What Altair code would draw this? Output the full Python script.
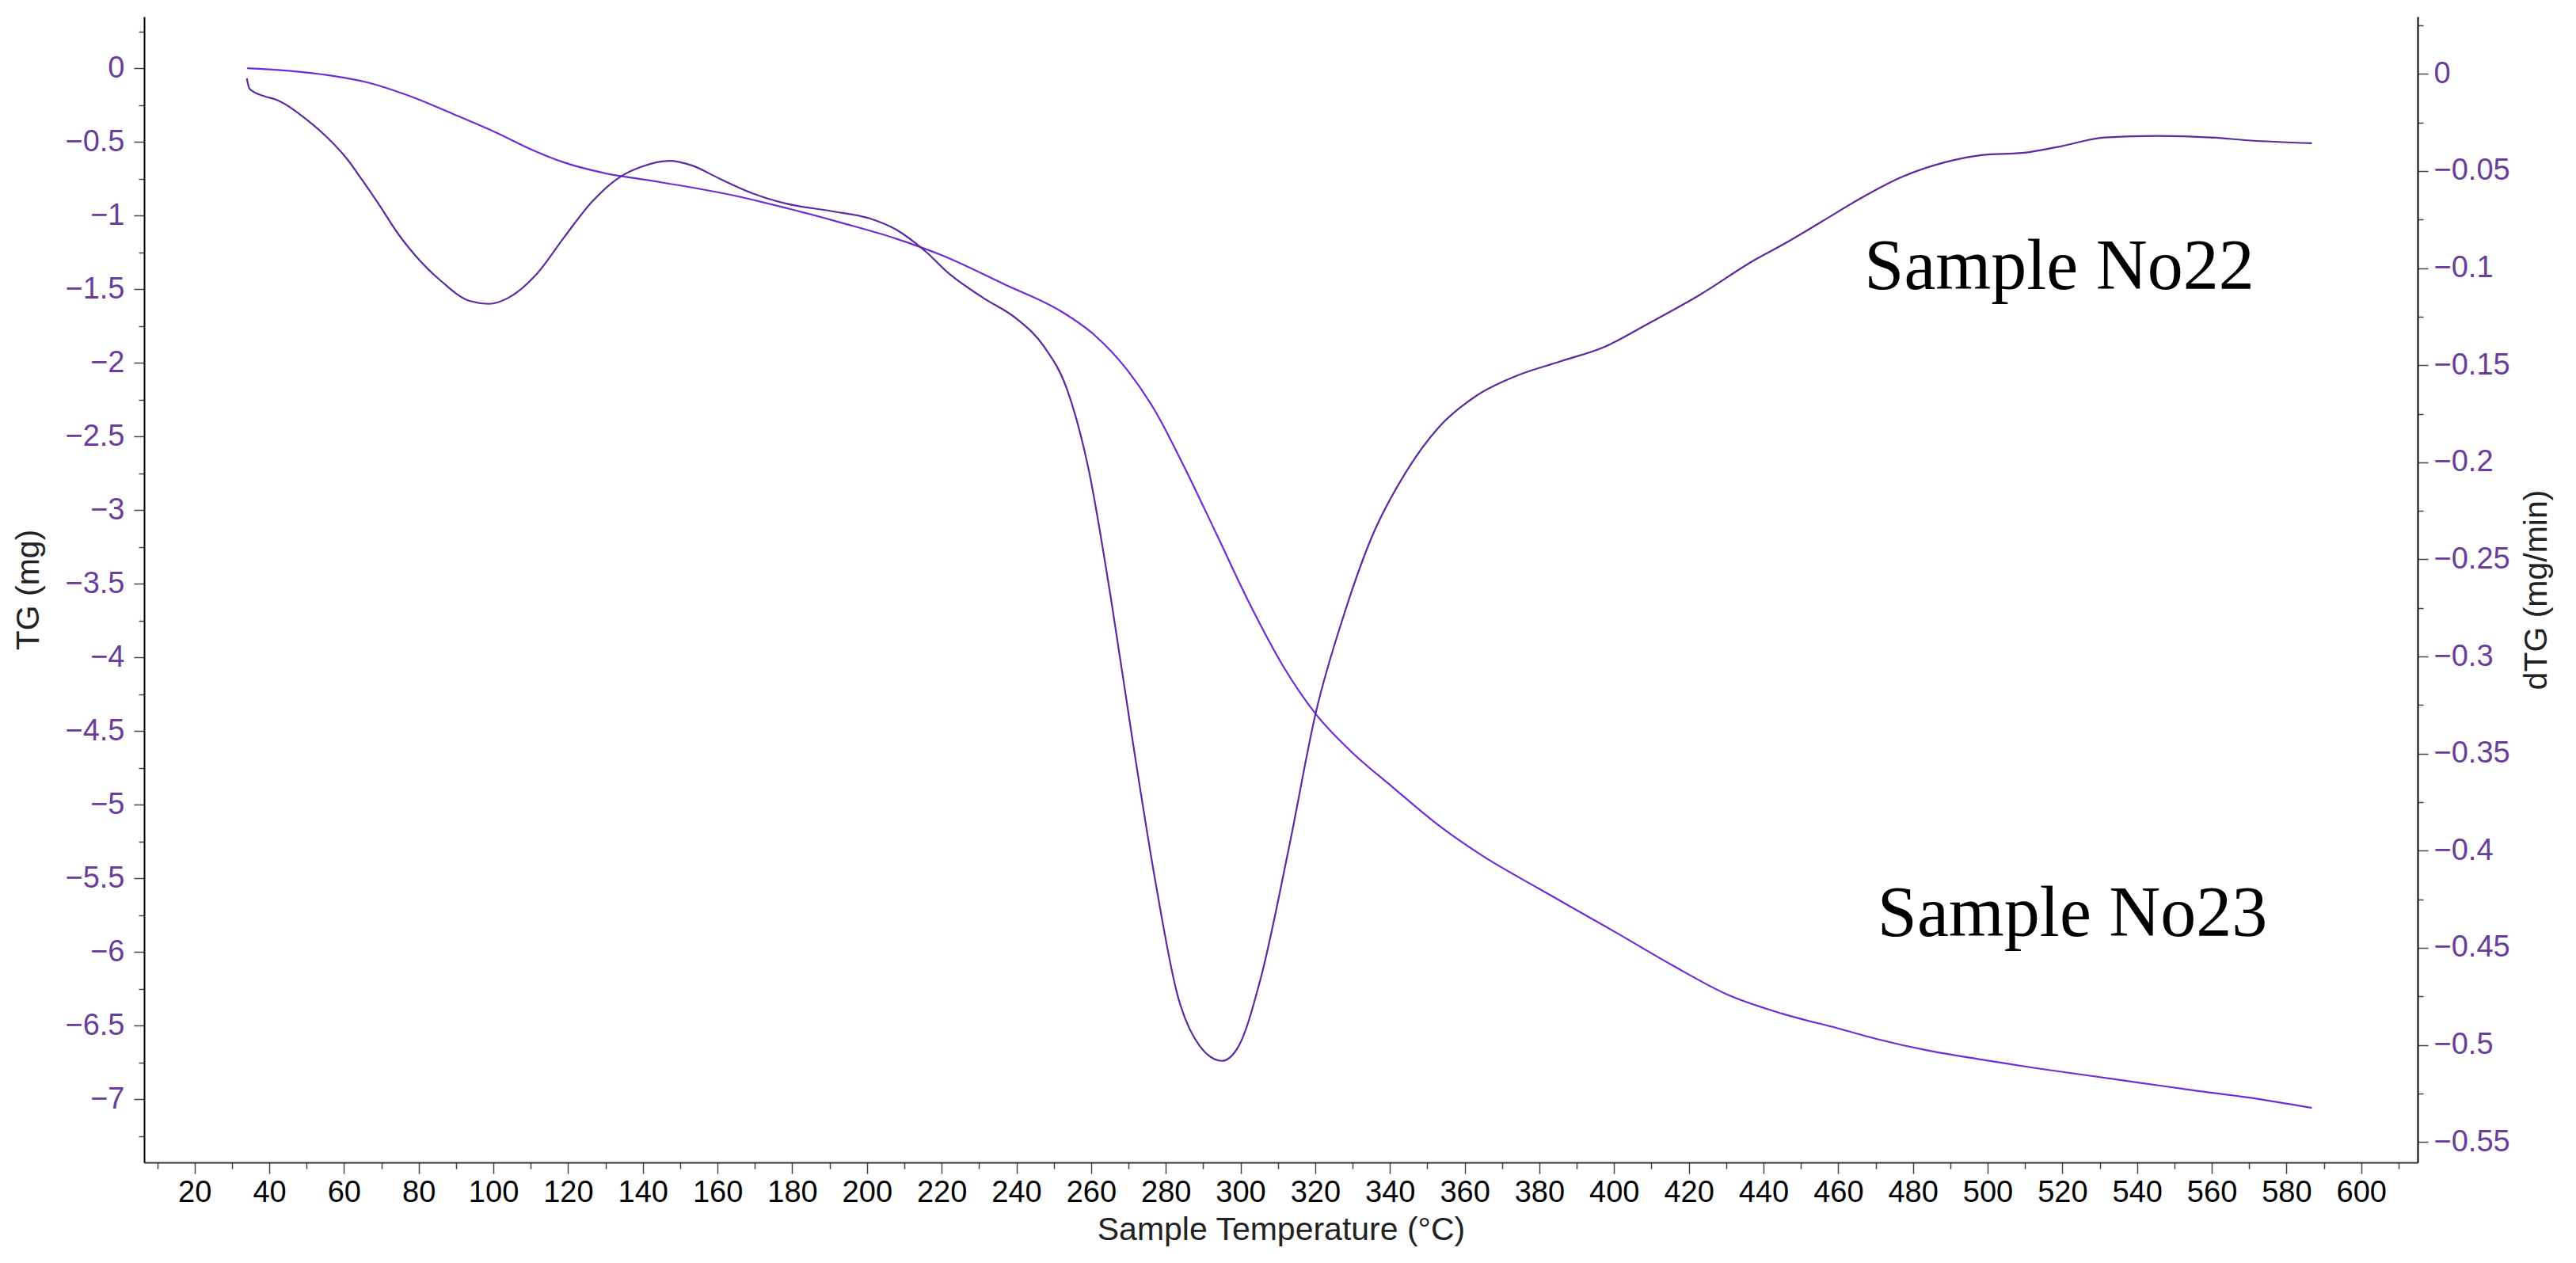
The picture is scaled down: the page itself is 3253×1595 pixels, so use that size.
import altair as alt
import pandas as pd

# ---- data ----
tg_temp = [34.1, 44.5, 56.4, 66.8, 78.7, 89.1, 101.0, 110.0, 118.9, 129.3, 141.2, 153.1,
           163.5, 178.4, 193.2, 208.1, 220.0, 237.0, 251.9, 260.8, 269.7, 277.2, 284.6,
           293.5, 302.5, 311.4, 320.3, 329.2, 341.1, 353.0, 364.9, 379.8, 400.6, 415.5,
           430.3, 445.0, 460.0, 470.0, 484.0, 498.0, 513.0, 527.0, 541.0, 555.0, 570.0, 586.8]
tg_mass = [0.0, -0.016, -0.05, -0.10, -0.20, -0.31, -0.44, -0.55, -0.64, -0.71, -0.76, -0.81,
           -0.86, -0.95, -1.05, -1.16, -1.27, -1.47, -1.65, -1.81, -2.05, -2.33, -2.69,
           -3.16, -3.64, -4.06, -4.39, -4.63, -4.89, -5.14, -5.35, -5.57, -5.87, -6.09,
           -6.29, -6.42, -6.52, -6.59, -6.67, -6.73, -6.79, -6.84, -6.89, -6.94, -6.99, -7.06]

dtg_temp = [34.0, 34.7, 38.5, 41.5, 50.5, 55.5, 60.9, 65.0, 69.8, 74.0, 78.7, 86.2, 93.6,
            98.8, 104.0, 111.5, 118.9, 126.3, 133.8, 139.7, 147.1, 153.1, 160.5, 169.4,
            178.4, 190.3, 200.7, 208.1, 215.5, 222.2, 231.1, 240.0, 247.4, 253.4, 259.3,
            265.3, 271.2, 277.2, 283.1, 289.1, 295.0, 299.5, 305.4, 312.9, 320.3, 327.7,
            335.2, 344.1, 353.0, 363.4, 373.8, 385.7, 397.6, 409.5, 422.9, 437.8, 445.7,
            455.7, 465.6, 477.0, 488.4, 498.4, 509.8, 519.8, 531.2, 545.4, 559.7, 569.7, 586.8]
dtg_rate = [-0.0023, -0.0076, -0.0114, -0.0130, -0.0243, -0.0327, -0.0440, -0.0550, -0.0685,
            -0.0810, -0.0926, -0.1070, -0.1169, -0.1184, -0.1153, -0.1032, -0.0842, -0.0660,
            -0.0532, -0.0478, -0.0448, -0.0471, -0.0539, -0.0615, -0.0668, -0.0706, -0.0744,
            -0.0805, -0.0911, -0.1032, -0.1153, -0.1260, -0.1404, -0.1616, -0.2033, -0.2700,
            -0.3444, -0.4157, -0.4741, -0.5006, -0.5082, -0.5006, -0.4657, -0.3990, -0.3277,
            -0.2784, -0.2382, -0.2056, -0.1821, -0.1654, -0.1555, -0.1480, -0.1404, -0.1282,
            -0.1138, -0.0956, -0.0873, -0.0759, -0.0645, -0.0531, -0.0456, -0.0418, -0.0406,
            -0.0372, -0.0327, -0.0319, -0.0327, -0.0342, -0.0357]

x_ticks = list(range(10, 620, 10))
tg_ticks = [round(0.25 * k, 2) for k in range(1, -30, -1)]
dtg_ticks = [round(0.025 * k, 3) for k in range(1, -23, -1)]

labels = ["Sample No22", "Sample No23"]
label_temp = [467.0, 470.5]
label_mass = [-1.50, -5.89]

X_DOMAIN = [6.5, 615.1]
TG_DOMAIN = [-7.43, 0.35]
DTG_DOMAIN = [-0.5605, 0.0295]

LABEL_FONT = "Liberation Sans"
TICK_PURPLE = "#6a3d9a"

tg_df = pd.DataFrame({"T": tg_temp, "TG": tg_mass})
dtg_df = pd.DataFrame({"T": dtg_temp, "dTG": dtg_rate})
lab_df = pd.DataFrame({"T": label_temp, "TG": label_mass, "label": labels})

x_scale = alt.Scale(domain=X_DOMAIN, nice=False, zero=False)
tg_scale = alt.Scale(domain=TG_DOMAIN, nice=False, zero=False)
dtg_scale = alt.Scale(domain=DTG_DOMAIN, nice=False, zero=False)

x_minor = "datum.value % 20 != 0"
x_axis = alt.Axis(
    values=x_ticks, title="Sample Temperature (°C)", grid=False, orient="bottom",
    labelExpr="datum.value % 20 == 0 ? format(datum.value, 'd') : ''",
    tickSize={"condition": {"test": x_minor, "value": 8}, "value": 14},
    tickColor="#444444", tickWidth=1.5, domainColor="#333333", domainWidth=2,
    labelFont=LABEL_FONT, labelFontSize=38, labelColor="#000000", labelPadding=5,
    labelOverlap=False, labelFlush=False,
    titleFont=LABEL_FONT, titleFontSize=41, titleFontWeight="normal", titleColor="#222222",
    titlePadding=8,
)

tg_minor = "abs(datum.value*2 - round(datum.value*2)) > 0.001"
tg_axis = alt.Axis(
    values=tg_ticks, orient="left", title="TG (mg)", grid=False,
    labelExpr="abs(datum.value*2 - round(datum.value*2)) < 0.001 ? format(datum.value, '~g') : ''",
    tickSize={"condition": {"test": tg_minor, "value": 7}, "value": 13},
    tickColor="#444444", tickWidth=1.5, domainColor="#000000", domainWidth=2,
    labelFont=LABEL_FONT, labelFontSize=38, labelColor=TICK_PURPLE, labelPadding=12,
    labelOverlap=False, labelFlush=False,
    titleFont=LABEL_FONT, titleFontSize=41, titleFontWeight="normal", titleColor="#222222",
    titlePadding=24,
)

dtg_minor = "abs(datum.value*20 - round(datum.value*20)) > 0.001"
dtg_axis = alt.Axis(
    values=dtg_ticks, orient="right", title="dTG (mg/min)", grid=False,
    labelExpr="abs(datum.value*20 - round(datum.value*20)) < 0.001 ? format(datum.value, '~g') : ''",
    tickSize={"condition": {"test": dtg_minor, "value": 7}, "value": 13},
    tickColor="#444444", tickWidth=1.5, domainColor="#000000", domainWidth=2,
    labelFont=LABEL_FONT, labelFontSize=38, labelColor=TICK_PURPLE, labelPadding=7,
    labelOverlap=False, labelFlush=False,
    titleFont=LABEL_FONT, titleFontSize=41, titleFontWeight="normal", titleColor="#222222",
    titleAngle=270, titleBaseline="top", titlePadding=14,
)

tg_line = alt.Chart(tg_df).mark_line(
    interpolate="monotone", color="#6f2bd9", strokeWidth=2.2
).encode(
    x=alt.X("T:Q", scale=x_scale, axis=x_axis),
    y=alt.Y("TG:Q", scale=tg_scale, axis=tg_axis),
)

dtg_line = alt.Chart(dtg_df).mark_line(
    interpolate="monotone", color="#5b2a9e", strokeWidth=2.2
).encode(
    x=alt.X("T:Q", scale=x_scale, axis=x_axis),
    y=alt.Y("dTG:Q", scale=dtg_scale, axis=dtg_axis),
)

text = alt.Chart(lab_df).mark_text(
    align="left", baseline="alphabetic", font="Liberation Serif", fontSize=90, color="#000000"
).encode(
    x=alt.X("T:Q", scale=x_scale, axis=x_axis),
    y=alt.Y("TG:Q", scale=tg_scale, axis=None),
    text="label:N",
)

chart = alt.layer(tg_line, dtg_line, text).resolve_scale(
    y="independent", x="shared"
).resolve_axis(
    x="shared"
).properties(
    width=2871, height=1447,
    autosize=alt.AutoSizeParams(type="none"),
    padding={"left": 182, "top": 21, "right": 200, "bottom": 127},
    background="white",
).configure_view(stroke=None)

chart.save("out.html", embed_options={"renderer": "svg", "actions": False})
